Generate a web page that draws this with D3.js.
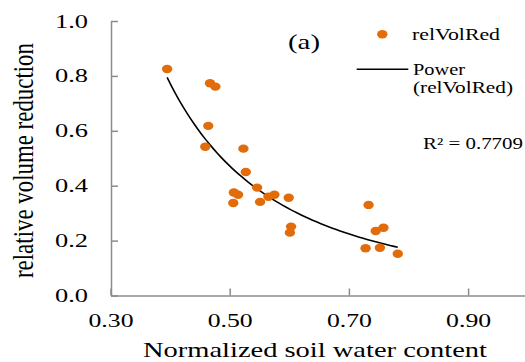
<!DOCTYPE html>
<head>
  <meta charset="utf-8">
  <script src="https://cdn.jsdelivr.net/npm/d3@7"></script>
  <style>
    body { margin: 0; background: #fff; }
    svg text { font-family: "Liberation Serif", "DejaVu Serif", serif; fill: #000; }
    .axis path.domain { stroke: #8c8c8c; stroke-width: 1.5; }
    .axis .tick line { stroke: #8c8c8c; stroke-width: 1.5; }
    .axis .tick text { font-size: 19px; }
  </style>
</head>
<body>
  <svg width="525" height="362"></svg>
  <script>
    // normalized soil water content vs relative volume reduction
    const swc = [0.395, 0.467, 0.476, 0.464, 0.459, 0.523, 0.527, 0.546, 0.507, 0.514,
      0.506, 0.551, 0.565, 0.575, 0.599, 0.603, 0.601, 0.733, 0.745, 0.758,
      0.728, 0.752, 0.782];
    const relVolRed = [0.825, 0.773, 0.761, 0.618, 0.542, 0.535, 0.450, 0.393, 0.375, 0.367,
      0.337, 0.341, 0.360, 0.367, 0.356, 0.251, 0.229, 0.330, 0.235, 0.247,
      0.172, 0.174, 0.152];
    const xTicks = [0.30, 0.50, 0.70, 0.90];
    const yTicks = [0.0, 0.2, 0.4, 0.6, 0.8, 1.0];
    // power trendline y = a * x^b (Excel)
    const fitA = 0.102, fitB = -2.21;
    const r2Label = 'R² = 0.7709';

    const svg = d3.select('svg');
    const orange = '#e36c0a';
    const serif = '"Liberation Serif", "DejaVu Serif", serif';

    const x = d3.scaleLinear().domain([0.3, 1.0]).range([110.5, 527.7]);
    const y = d3.scaleLinear().domain([0, 1]).range([295.5, 21]);

    // axes, ticks point inward
    const gx = svg.append('g')
      .attr('class', 'axis')
      .attr('transform', 'translate(0,295.5)')
      .call(d3.axisBottom(x).tickValues(xTicks).tickFormat(d3.format('.2f'))
        .tickSizeInner(-7).tickSizeOuter(0).tickPadding(18));
    gx.attr('font-family', serif);
    gx.selectAll('.tick text')
      .attr('textLength', 45).attr('lengthAdjust', 'spacingAndGlyphs');

    const gy = svg.append('g')
      .attr('class', 'axis')
      .attr('transform', 'translate(111,0)')
      .call(d3.axisLeft(y).tickValues(yTicks).tickFormat(d3.format('.1f'))
        .tickSizeInner(-7).tickSizeOuter(0).tickPadding(23));
    gy.attr('font-family', serif);
    gy.selectAll('.tick text')
      .attr('textLength', 33).attr('lengthAdjust', 'spacingAndGlyphs');

    // trendline
    const xs = d3.extent(swc);
    const fitPts = d3.range(0, 61).map(i => {
      const xv = xs[0] + (xs[1] - xs[0]) * i / 60;
      return [xv, fitA * Math.pow(xv, fitB)];
    });
    svg.append('path')
      .attr('d', d3.line().x(d => x(d[0])).y(d => y(d[1]))(fitPts))
      .attr('fill', 'none')
      .attr('stroke', '#000')
      .attr('stroke-width', 1.6);

    // points
    svg.selectAll('ellipse.pt')
      .data(swc.map((v, i) => [v, relVolRed[i]]))
      .enter()
      .append('ellipse')
      .attr('class', 'pt')
      .attr('cx', d => x(d[0]))
      .attr('cy', d => y(d[1]))
      .attr('rx', 5.2)
      .attr('ry', 4.2)
      .attr('fill', orange);

    // axis titles
    svg.append('text')
      .attr('x', 315).attr('y', 357)
      .attr('text-anchor', 'middle')
      .attr('font-size', 22)
      .attr('textLength', 344).attr('lengthAdjust', 'spacingAndGlyphs')
      .text('Normalized soil water content');

    svg.append('text')
      .attr('transform', 'translate(33,160.5) scale(1.25,1) rotate(-90)')
      .attr('text-anchor', 'middle')
      .attr('font-size', 23)
      .attr('textLength', 235).attr('lengthAdjust', 'spacingAndGlyphs')
      .text('relative volume reduction');

    // panel label
    svg.append('text')
      .attr('x', 288).attr('y', 48.5)
      .attr('font-size', 21)
      .attr('textLength', 32).attr('lengthAdjust', 'spacingAndGlyphs')
      .text('(a)');

    // legend
    svg.append('ellipse')
      .attr('cx', 382.3).attr('cy', 34.3)
      .attr('rx', 5.2).attr('ry', 4.2)
      .attr('fill', orange);
    svg.append('text')
      .attr('x', 412).attr('y', 40)
      .attr('font-size', 16)
      .attr('textLength', 88).attr('lengthAdjust', 'spacingAndGlyphs')
      .text('relVolRed');

    svg.append('line')
      .attr('x1', 356.7).attr('x2', 408.3)
      .attr('y1', 69.3).attr('y2', 69.3)
      .attr('stroke', '#000').attr('stroke-width', 1.6);
    svg.append('text')
      .attr('x', 413).attr('y', 75)
      .attr('font-size', 16)
      .attr('textLength', 52).attr('lengthAdjust', 'spacingAndGlyphs')
      .text('Power');
    svg.append('text')
      .attr('x', 413).attr('y', 93)
      .attr('font-size', 16)
      .attr('textLength', 100).attr('lengthAdjust', 'spacingAndGlyphs')
      .text('(relVolRed)');

    svg.append('text')
      .attr('x', 423).attr('y', 148.5)
      .attr('font-size', 16)
      .attr('textLength', 100).attr('lengthAdjust', 'spacingAndGlyphs')
      .text(r2Label);
  </script>
</body>
